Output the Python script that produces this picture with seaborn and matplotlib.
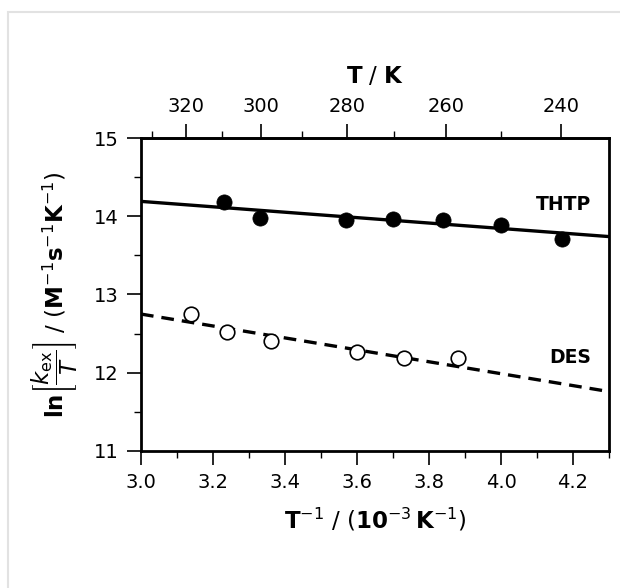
import numpy as np
import pandas as pd
import seaborn as sns
import matplotlib.pyplot as plt
from matplotlib.patches import Rectangle
from matplotlib.ticker import MultipleLocator, FixedLocator

# inverse temperature (1e-3 K^-1) and ln(kex/T)
thtp_x = [3.23, 3.33, 3.57, 3.70, 3.84, 4.00, 4.17]
thtp_y = [14.18, 13.98, 13.95, 13.96, 13.95, 13.89, 13.71]
des_x = [3.14, 3.24, 3.36, 3.60, 3.73, 3.88]
des_y = [12.75, 12.52, 12.41, 12.26, 12.19, 12.19]

# linear fits (slope, intercept)
thtp_fit = (-0.346, 15.228)
des_fit = (-0.762, 15.036)

top_ticks = [320, 300, 280, 260, 240]
top_minor = [330, 310, 290, 270, 250]

sns.set_theme(style="white")
plt.rcParams['font.family'] = ['DejaVu Sans']
plt.rcParams['mathtext.fontset'] = 'dejavusans'
plt.rcParams.update({'text.color': 'black', 'axes.labelcolor': 'black',
                     'xtick.color': 'black', 'ytick.color': 'black'})

fig = plt.figure(figsize=(6.2, 5.88), dpi=100)
ax = fig.add_axes([0.2274, 0.2330, 0.7549, 0.5323])

# light frame around the figure
fig.patches.append(Rectangle((0.0137, -0.1), 2, 1.0796, transform=fig.transFigure,
                             fill=False, edgecolor='#e2e2e2', lw=1.5))

xfit = np.array([3.0, 4.3])
fit_df = pd.DataFrame({'x': np.concatenate([xfit, xfit]),
                       'y': np.concatenate([thtp_fit[0] * xfit + thtp_fit[1],
                                            des_fit[0] * xfit + des_fit[1]]),
                       'set': ['THTP'] * 2 + ['DES'] * 2})

sns.lineplot(data=fit_df[fit_df['set'] == 'THTP'], x='x', y='y', ax=ax,
             color='black', lw=2.4)
sns.lineplot(data=fit_df[fit_df['set'] == 'DES'], x='x', y='y', ax=ax,
             color='black', lw=2.4, linestyle=(0, (3.8, 2.4)))

sns.scatterplot(x=thtp_x, y=thtp_y, ax=ax, color='black', s=120,
                edgecolor='black', linewidth=0.5, zorder=3)
sns.scatterplot(x=des_x, y=des_y, ax=ax, facecolor='white', s=110,
                edgecolor='black', linewidth=1.2, zorder=3)

ax.text(4.25, 14.15, 'THTP', ha='right', va='center', fontsize=13.5, fontweight='bold')
ax.text(4.25, 12.20, 'DES', ha='right', va='center', fontsize=13.5, fontweight='bold')

ax.set_xlim(3.0, 4.3)
ax.set_ylim(11, 15)
ax.xaxis.set_minor_locator(MultipleLocator(0.1))
ax.yaxis.set_major_locator(MultipleLocator(1))
ax.yaxis.set_minor_locator(MultipleLocator(0.5))
xt = np.arange(3.0, 4.3, 0.2)
ax.set_xticks(xt)
ax.set_xticklabels([f'{v:.1f}' for v in xt])

ax.tick_params(which='major', direction='out', length=10, width=1.2, labelsize=14,
               bottom=True, left=True, pad=6)
ax.tick_params(which='minor', direction='out', length=5, width=1, bottom=True, left=True)
for s in ax.spines.values():
    s.set_linewidth(2)
    s.set_color('black')

ax.set_xlabel(r'$\mathbf{T}^{-1}$ / $\left(\mathbf{10}^{-3}\,\mathbf{K}^{-1}\right)$',
              fontsize=16.5, labelpad=10)
ax.set_ylabel(r'$\mathbf{ln}\left[\dfrac{k_{\mathrm{ex}}}{T}\right]$ / $\left(\mathbf{M}^{-1}\mathbf{s}^{-1}\mathbf{K}^{-1}\right)$',
              fontsize=16.5, labelpad=10)

top = ax.secondary_xaxis('top', functions=(lambda x: 1000.0 / np.maximum(x, 1e-9),
                                           lambda t: 1000.0 / np.maximum(t, 1e-9)))
top.xaxis.set_major_locator(FixedLocator(top_ticks))
top.xaxis.set_minor_locator(FixedLocator(top_minor))
top.tick_params(which='major', direction='out', length=10, width=1.2, labelsize=14, pad=6)
top.tick_params(which='minor', direction='out', length=5, width=1)
top.spines['top'].set_linewidth(2)
top.set_xlabel(r'$\mathbf{T}$ / $\mathbf{K}$', fontsize=16.5, labelpad=10)

fig.savefig('out.png', dpi=100)
